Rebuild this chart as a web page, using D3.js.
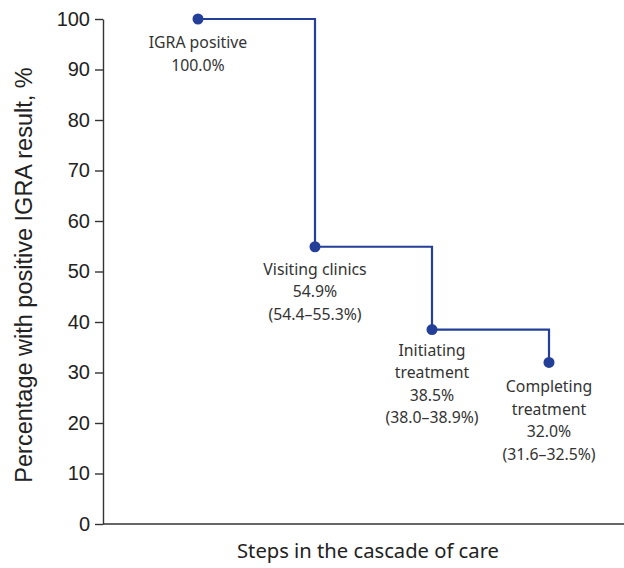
<!DOCTYPE html>
<html>
<head>
<meta charset="utf-8">
<script src="https://cdn.jsdelivr.net/npm/d3@7"></script>
<style>
  body { margin: 0; background: #fff; }
  svg { display: block; }
</style>
</head>
<body>
<svg id="chart" width="624" height="568"></svg>
<script>
// cascade steps and their percentages
const steps = ['IGRA positive', 'Visiting clinics', 'Initiating treatment', 'Completing treatment']
const values = [100.0, 54.9, 38.5, 32.0]
const labelLines = [
  ['IGRA positive', '100.0%'],
  ['Visiting clinics', '54.9%', '(54.4\u201355.3%)'],
  ['Initiating', 'treatment', '38.5%', '(38.0\u201338.9%)'],
  ['Completing', 'treatment', '32.0%', '(31.6\u201332.5%)']
]
const yTicks = [0, 10, 20, 30, 40, 50, 60, 70, 80, 90, 100]

const blue = '#233f98'
const ink = '#333'

const margin = { top: 19, left: 103, bottom: 44, right: 0 }
const width = 624
const height = 568

const svg = d3.select('#chart')

const y = d3.scaleLinear()
  .domain([0, 100])
  .range([height - margin.bottom, margin.top])

const x = d3.scalePoint()
  .domain(steps)
  .range([198, 549])

// y axis
const yAxis = svg.append('g')
  .attr('transform', `translate(${margin.left},0)`)
  .call(d3.axisLeft(y).tickValues(yTicks).tickSize(8).tickPadding(5).tickSizeOuter(0))
yAxis.select('.domain').attr('stroke', ink).attr('stroke-width', 1.4)
yAxis.selectAll('.tick line').attr('stroke', ink).attr('stroke-width', 1.4)
yAxis.selectAll('.tick text')
  .attr('fill', '#222')
  .style('font-family', '"Liberation Sans", Arial, sans-serif')
  .style('font-size', '20px')

// x axis line
svg.append('line')
  .attr('x1', margin.left)
  .attr('x2', width)
  .attr('y1', y(0))
  .attr('y2', y(0))
  .attr('stroke', ink)
  .attr('stroke-width', 1.4)

// step line
const line = d3.line()
  .x((d, i) => x(steps[i]))
  .y(d => y(d))
  .curve(d3.curveStepAfter)

svg.append('path')
  .datum(values)
  .attr('d', line)
  .attr('fill', 'none')
  .attr('stroke', blue)
  .attr('stroke-width', 2.2)

svg.selectAll('circle.pt')
  .data(values)
  .enter().append('circle')
  .attr('class', 'pt')
  .attr('cx', (d, i) => x(steps[i]))
  .attr('cy', d => y(d))
  .attr('r', 5.5)
  .attr('fill', blue)

// point labels
const labelOffset = [29, 28, 26, 30]
const lineGap = 22.5
const labels = svg.selectAll('text.lbl')
  .data(values)
  .enter().append('text')
  .attr('class', 'lbl')
  .attr('text-anchor', 'middle')
  .attr('fill', ink)
  .style('font-family', '"Noto Sans", sans-serif')
  .style('font-size', '15.8px')

labels.each(function (d, i) {
  d3.select(this).selectAll('tspan')
    .data(labelLines[i])
    .enter().append('tspan')
    .attr('x', x(steps[i]))
    .attr('y', (t, j) => y(d) + labelOffset[i] + j * lineGap)
    .text(t => t)
})

// axis titles
svg.append('text')
  .attr('transform', 'translate(32,275) rotate(-90)')
  .attr('text-anchor', 'middle')
  .attr('fill', '#222')
  .style('font-family', '"Liberation Sans", Arial, sans-serif')
  .style('font-size', '23.5px')
  .text('Percentage with positive IGRA result, %')

svg.append('text')
  .attr('x', 368)
  .attr('y', 558)
  .attr('text-anchor', 'middle')
  .attr('fill', '#222')
  .style('font-family', '"Noto Sans", sans-serif')
  .style('font-size', '20.2px')
  .text('Steps in the cascade of care')
</script>
</body>
</html>
